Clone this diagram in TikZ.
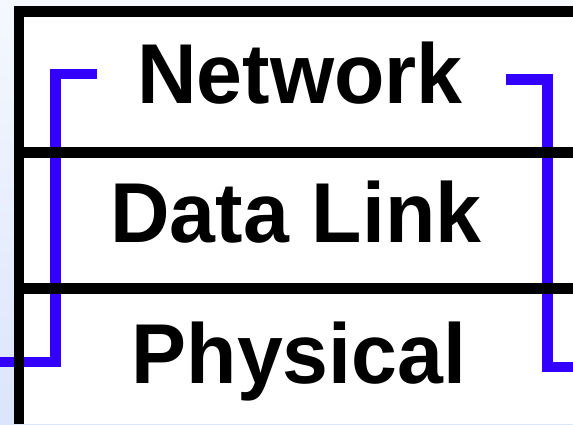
\documentclass[tikz,border=0pt]{standalone}
\usepackage{fontspec}
\setmainfont{Liberation Sans}
\definecolor{bgtop}{HTML}{F5F8FE}
\definecolor{bgbot}{HTML}{DBE5FB}
\definecolor{linkblue}{HTML}{3300FF}
\tikzset{
  layer/.style={font=\fontsize{85}{85}\selectfont\bfseries, anchor=base, inner sep=0pt, xscale=0.97},
  rule/.style={line width=11pt, black},
  path2/.style={line width=10.5pt, linkblue, line join=miter, line cap=butt}
}
\begin{document}
\begin{tikzpicture}[x=1pt,y=-1pt]
\useasboundingbox (0,0) rectangle (573,424);
\shade[top color=bgtop, bottom color=bgbot] (0,0) rectangle (573,424);
\fill[white] (19,6) rectangle (573,424);
% text
\node[layer] (net) at (300,103) {Network};
\node[layer] (dl) at (296,242) {Data Link};
\node[layer] (phy) at (299,383) {Physical};
% blue paths
\coordinate (la) at (0,362);
\coordinate (lb) at (97,74);
\coordinate (ra) at (506,79.5);
\coordinate (rb) at (573,367);
\draw[path2] (la) -- (55.5,362) -- (55.5,74) -- (lb);
\draw[path2] (ra) -- (547.5,79.5) -- (547.5,367) -- (rb);
% black frame
\draw[line width=10pt, black] (19,6) -- (19,424);
\draw[rule] (14,11.5) -- (573,11.5);
\draw[rule] (19,152) -- (573,152);
\draw[rule] (19,288.5) -- (573,288.5);
\end{tikzpicture}
\end{document}
